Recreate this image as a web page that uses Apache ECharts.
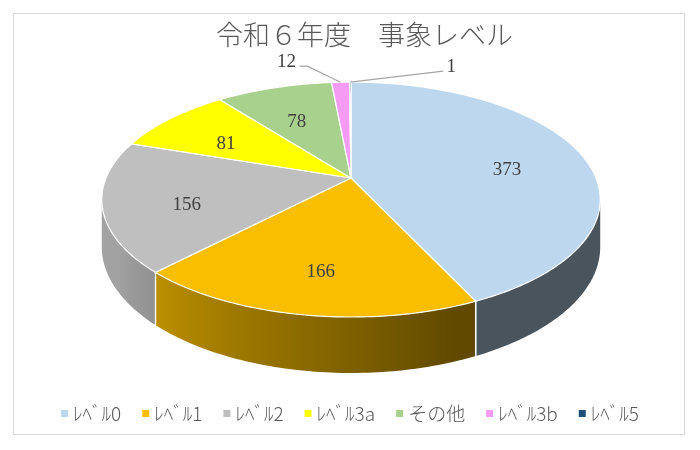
<!DOCTYPE html>
<html>
<head>
<meta charset="utf-8">
<script src="https://cdn.jsdelivr.net/npm/echarts@6/dist/echarts.min.js"></script>
<style>
  html, body { margin: 0; padding: 0; background: #fff; }
  #chart { width: 700px; height: 450px; }
</style>
</head>
<body>
<div id="chart"></div>
<script>
// 令和6年度 事象レベル — 3D風の円グラフ

const categories = ['ﾚﾍﾞﾙ0', 'ﾚﾍﾞﾙ1', 'ﾚﾍﾞﾙ2', 'ﾚﾍﾞﾙ3a', 'その他', 'ﾚﾍﾞﾙ3b', 'ﾚﾍﾞﾙ5'];
const counts = [373, 166, 156, 81, 78, 12, 1];
const colors = ['#BDD7EE', '#F9BE00', '#BFBFBF', '#FFFF00', '#A9D18E', '#F59BF3', '#1F4E79'];

// 透視の見た目（中心・半径・奥行き・厚み）
const CX = 351, CY = 178, RX = 245, RY = 113.5, D = 5.45, H = 45.7;
const VIS = Math.acos(-1 / D) * 180 / Math.PI;   // 側面が見え始める角度
const VIS_MIN = VIS, VIS_MAX = 360 - VIS;

// 小さい値は外側にラベル（引出線つき）
const callout = { 5: [-54, -20], 6: [101, -15] };

const total = counts.reduce((a, b) => a + b, 0);
const starts = [];
counts.reduce((acc, v, i) => { starts[i] = acc / total * 360; return acc + v; }, 0);

function proj(deg, r, drop) {
  const t = deg * Math.PI / 180;
  const x = r * Math.sin(t), z = r * Math.cos(t);
  const s = D / (D + z);
  return [CX + RX * x * s, CY - RY * z * s + drop * s];
}

function shade(hex, f) {
  const n = parseInt(hex.slice(1), 16);
  const c = [(n >> 16) & 255, (n >> 8) & 255, n & 255].map(v => Math.round(v * f));
  return `rgb(${c[0]},${c[1]},${c[2]})`;
}

function lightAt(deg) {
  if (deg <= 160) return 0.39;
  if (deg >= 240) return 0.85;
  return 0.39 + (deg - 160) / 80 * 0.46;
}

function makeRender(i) {
  return function (params, api) {
    const a0 = starts[i];
    const a1 = a0 + api.value(0) / total * 360;
    const children = [];

    // 側面（横方向のグラデーション）
    const lo = Math.max(a0, VIS_MIN), hi = Math.min(a1, VIS_MAX);
    if (hi > lo) {
      const n = Math.max(2, Math.ceil(hi - lo));
      const topPts = [], botPts = [], samples = [];
      for (let k = 0; k <= n; k++) {
        const t = lo + (hi - lo) * k / n;
        topPts.push(proj(t, 1, 0));
        botPts.push(proj(t, 1, H));
        samples.push([proj(t, 1, 0)[0], shade(colors[i], lightAt(t))]);
      }
      const xs = samples.map(s => s[0]);
      const xMin = Math.min(...xs), xMax = Math.max(...xs);
      const span = Math.max(1, xMax - xMin);
      const stops = samples
        .map(s => ({ offset: (s[0] - xMin) / span, color: s[1] }))
        .sort((a, b) => a.offset - b.offset);
      children.push({
        type: 'polygon',
        shape: { points: topPts.concat(botPts.reverse()) },
        style: {
          fill: { type: 'linear', x: xMin, y: 0, x2: xMin + span, y2: 0, global: true, colorStops: stops }
        },
        z2: 0
      });
      [a0, a1].forEach(a => {
        if (a > VIS_MIN && a < VIS_MAX) {
          const p = proj(a, 1, 0), q = proj(a, 1, H);
          children.push({
            type: 'line',
            shape: { x1: p[0], y1: p[1], x2: q[0], y2: q[1] },
            style: { stroke: '#fff', lineWidth: 1.2 },
            z2: 1
          });
        }
      });
    }

    // 上面
    const pts = [proj(0, 0, 0)];
    const m = Math.max(2, Math.ceil(a1 - a0));
    for (let k = 0; k <= m; k++) pts.push(proj(a0 + (a1 - a0) * k / m, 1, 0));
    children.push({
      type: 'polygon',
      shape: { points: pts },
      style: { fill: colors[i], stroke: '#fff', lineWidth: 1.2 },
      z2: 10
    });

    // ラベル
    const mid = (a0 + a1) / 2;
    const labelStyle = { fill: '#404040', fontSize: 19, fontFamily: '"Liberation Serif", "DejaVu Serif", serif' };
    if (callout[i]) {
      const rim = proj(mid, 1, 0);
      const off = callout[i];
      const lx = rim[0] + off[0], ly = rim[1] + off[1];
      const right = off[0] < 0;
      const knee = right ? [lx + 21, ly + 4] : [lx - 8, ly + 4];
      const end = right ? [lx + 13, ly + 4] : knee;
      children.push({
        type: 'polyline',
        shape: { points: [rim, knee, end] },
        style: { stroke: '#A6A6A6', lineWidth: 1.2, fill: null },
        z2: 19
      });
      children.push({
        type: 'text',
        style: Object.assign({ text: String(api.value(0)), x: lx, y: ly, align: 'center', verticalAlign: 'middle' }, labelStyle),
        z2: 20
      });
    } else {
      const p = proj(mid, 0.67, 8);
      children.push({
        type: 'text',
        style: Object.assign({ text: String(api.value(0)), x: p[0], y: p[1], align: 'center', verticalAlign: 'middle' }, labelStyle),
        z2: 20
      });
    }

    return { type: 'group', children };
  };
}

const chart = echarts.init(document.getElementById('chart'));

chart.setOption({
  animation: false,
  backgroundColor: '#fff',
  title: {
    text: '令和６年度　事象レベル',
    left: 211,
    top: 16,
    textStyle: { fontFamily: 'Noto Sans CJK JP', fontSize: 27, fontWeight: 300, color: '#595959' }
  },
  legend: {
    data: categories,
    left: 'center',
    top: 399,
    icon: 'rect',
    itemWidth: 7,
    itemHeight: 7,
    itemGap: 21,
    textStyle: { fontFamily: 'Noto Sans CJK JP', fontSize: 19, fontWeight: 300, color: '#595959' },
    selectedMode: false
  },
  graphic: [{
    type: 'rect',
    shape: { x: 13.5, y: 13.5, width: 671, height: 421 },
    style: { fill: '#fff', stroke: '#D9D9D9', lineWidth: 1 },
    z: -10,
    silent: true
  }],
  series: categories.map((name, i) => ({
    type: 'custom',
    name: name,
    coordinateSystem: 'none',
    silent: true,
    itemStyle: { color: colors[i] },
    renderItem: makeRender(i),
    data: [[counts[i]]]
  }))
});

window.addEventListener('resize', () => chart.resize());
</script>
</body>
</html>
